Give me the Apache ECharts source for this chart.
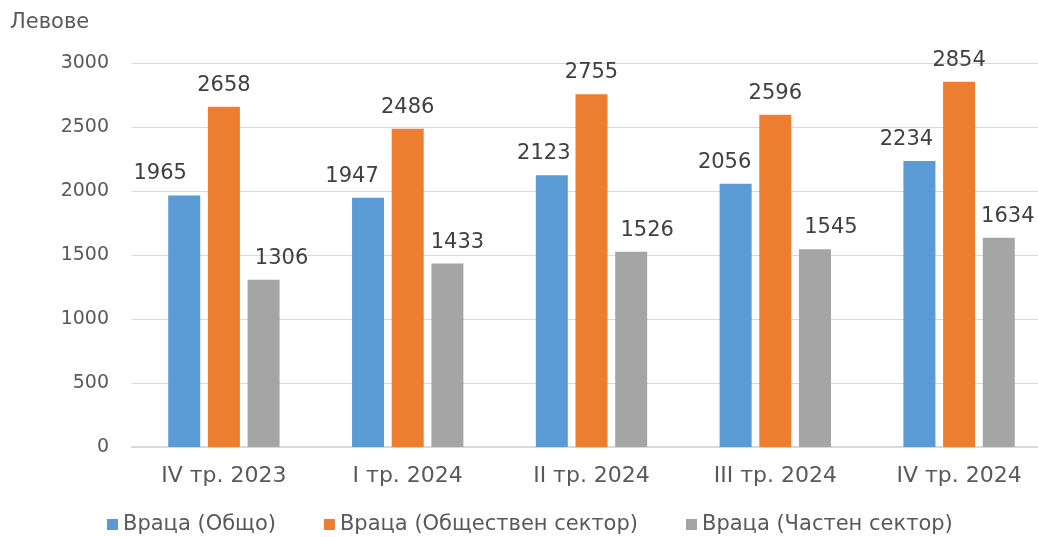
<!DOCTYPE html>
<html><head><meta charset="utf-8">
<script src="https://cdn.jsdelivr.net/npm/echarts@6/dist/echarts.min.js"></script>
<style>html,body{margin:0;padding:0;background:#fff}#c{width:1038px;height:537px}</style>
</head><body><div id="c"></div>
<script>
const categories = ['IV тр. 2023', 'I тр. 2024', 'II тр. 2024', 'III тр. 2024', 'IV тр. 2024'];
const seriesNames = ['Враца (Общо)', 'Враца (Обществен сектор)', 'Враца (Частен сектор)'];
const totalVals = [1965, 1947, 2123, 2056, 2234];
const publicVals = [2658, 2486, 2755, 2596, 2854];
const privateVals = [1306, 1433, 1526, 1545, 1634];
const yTicks = ['0', '500', '1000', '1500', '2000', '2500', '3000'];
// horizontal nudges of the data labels (Excel collision avoidance), in px
const totalLabelShift = [-24, -16, -8, -11, -13];
const publicLabelShift = [0, 0, 0, 0, 0];
const privateLabelShift = [18, 10, 16, 16, 9];
const colors = ['#5B9BD5', '#ED7D31', '#A5A5A5'];
const font = '"DejaVu Sans", Verdana, sans-serif';

const chart = echarts.init(document.getElementById('c'));
const mk = (name, vals, shifts, color) => ({
  name, type: 'bar', barWidth: 32, barGap: '24%',
  data: vals.map((v, i) => ({ value: v, label: { offset: [shifts[i], 0] } })),
  itemStyle: { color },
  label: { show: true, position: 'top', distance: 11, color: '#404040', fontFamily: font, fontSize: 21 }
});
chart.setOption({
  animation: false,
  color: colors,
  grid: { left: 132, width: 919, top: 63, bottom: 90, outerBoundsMode: 'none', containLabel: false },
  legend: {
    bottom: -3, left: 102, itemWidth: 11, itemHeight: 11, itemGap: 48, icon: 'rect',
    textStyle: { color: '#595959', fontFamily: font, fontSize: 21 }
  },
  xAxis: {
    type: 'category', data: categories,
    axisLine: { lineStyle: { color: '#D9D9D9', width: 2 } },
    axisTick: { show: false },
    axisLabel: { color: '#595959', fontFamily: font, fontSize: 22, margin: 18 }
  },
  yAxis: {
    type: 'value', min: 0, max: 3000, interval: 500,
    name: 'Левове', nameLocation: 'end', nameGap: 30,
    nameTextStyle: { color: '#595959', fontFamily: font, fontSize: 21, align: 'left', padding: [0, 0, 0, -122] },
    axisLine: { show: false }, axisTick: { show: false },
    splitLine: { lineStyle: { color: '#D9D9D9', width: 1 } },
    axisLabel: { color: '#595959', fontFamily: font, fontSize: 19, margin: 23,
      formatter: (v) => yTicks[Math.round(v / 500)] }
  },
  series: [
    mk(seriesNames[0], totalVals, totalLabelShift, colors[0]),
    mk(seriesNames[1], publicVals, publicLabelShift, colors[1]),
    mk(seriesNames[2], privateVals, privateLabelShift, colors[2])
  ]
});
</script></body></html>
